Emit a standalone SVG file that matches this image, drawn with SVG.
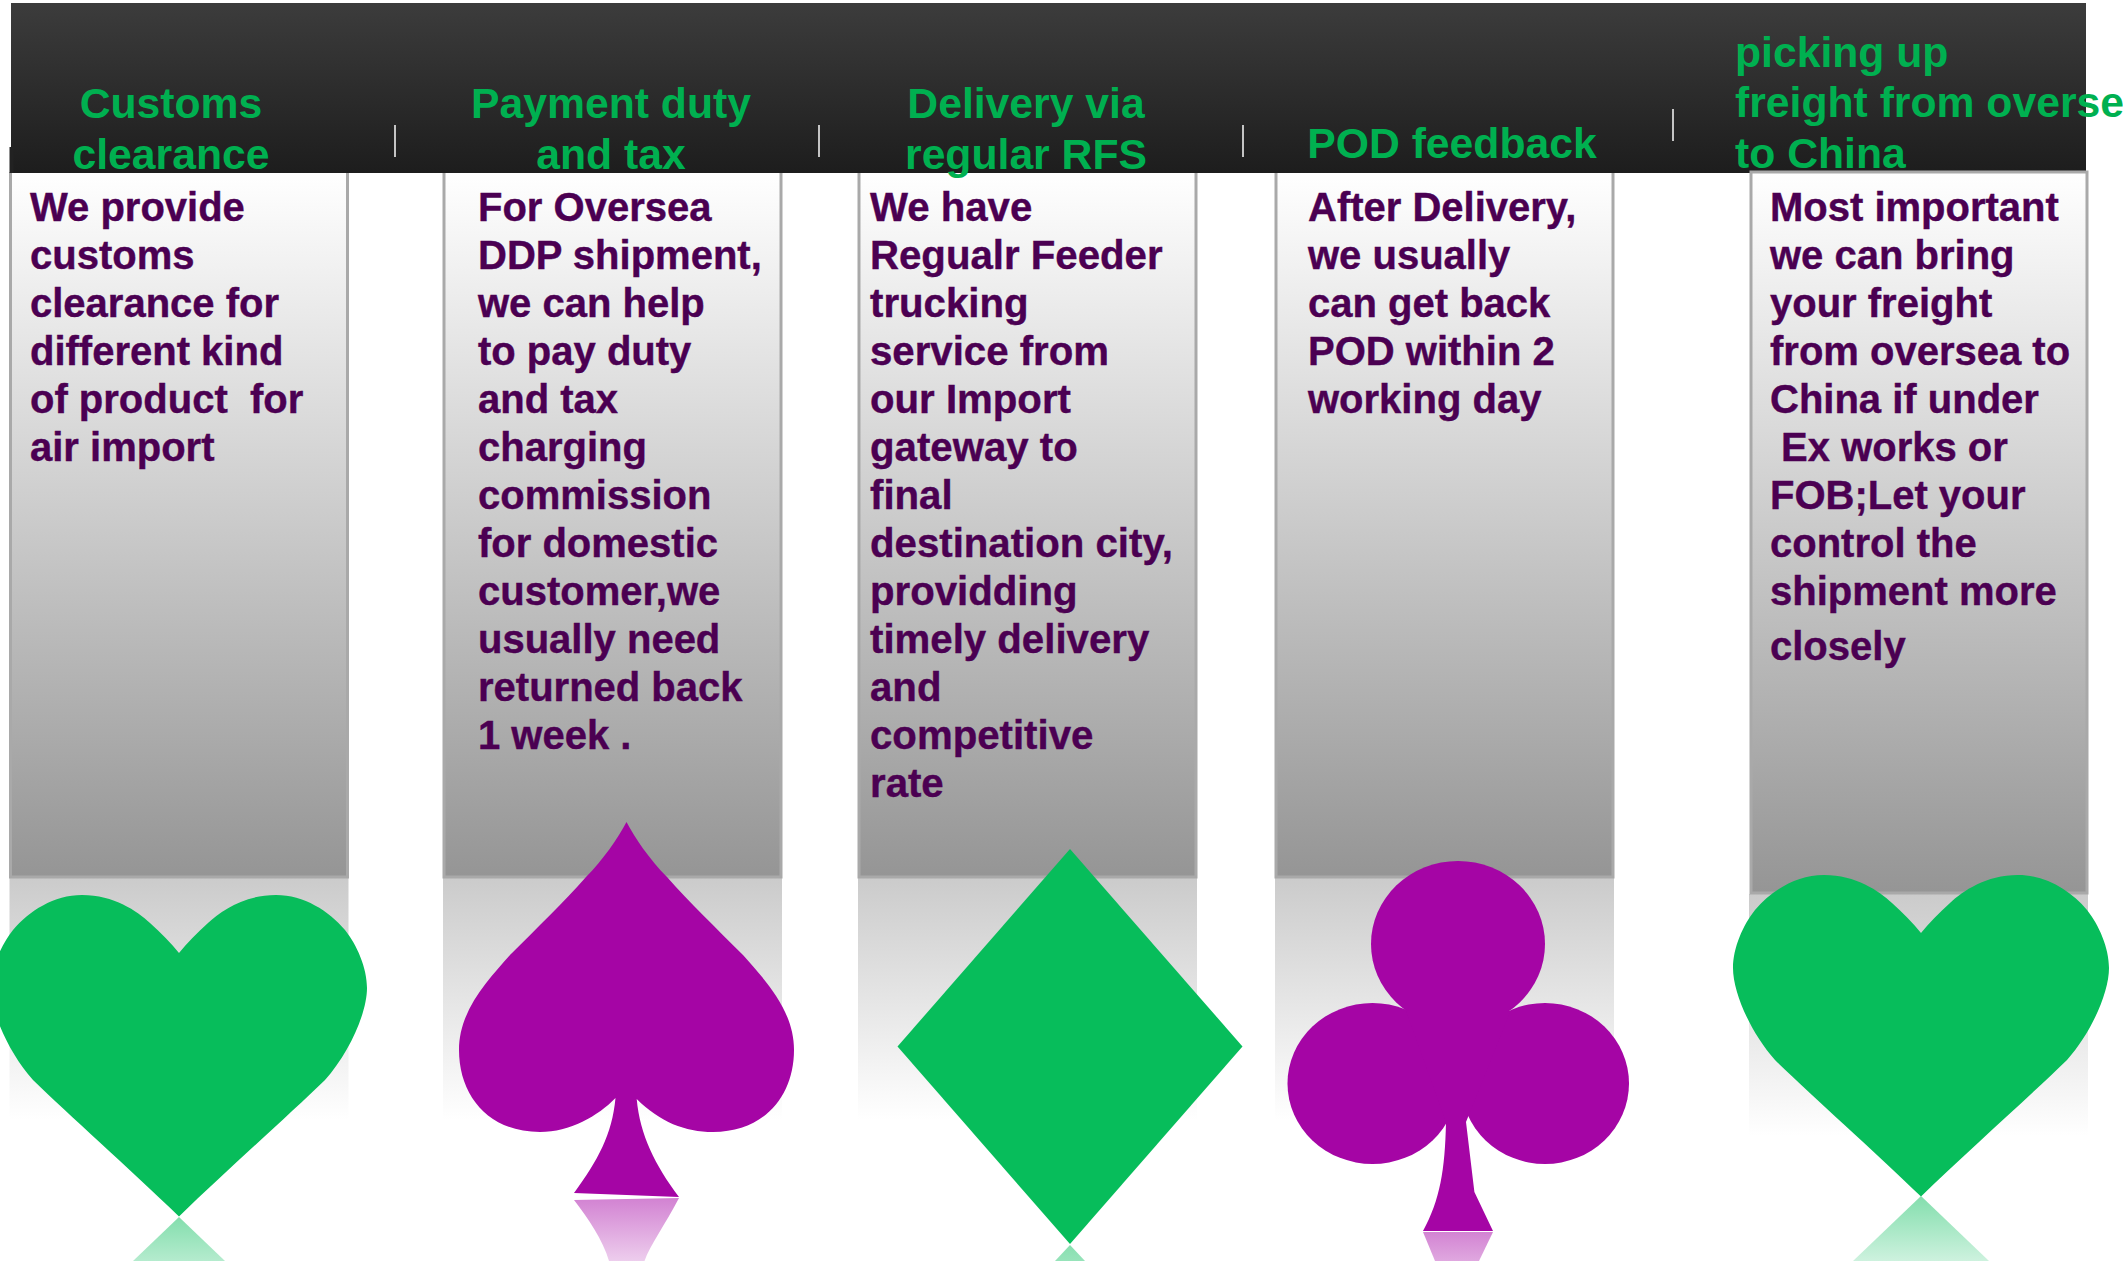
<svg xmlns="http://www.w3.org/2000/svg" width="2123" height="1261" viewBox="0 0 2123 1261">
<style>
.h{font:bold 42.700px "Liberation Sans",Arial,sans-serif;fill:#00b050}
.m{text-anchor:middle}
.b{font:bold 40px "Liberation Sans",Arial,sans-serif;fill:#4b0052;stroke:#4b0052;stroke-width:.4px}
.w{font-size:40.200px}
.p{fill:url(#pg)}
.e{fill:none;stroke:#a9a9a9;stroke-width:3}
.r{fill:url(#rg)}
.s{stroke:#c4c4c4;stroke-width:2}
.g{fill:#07bd5b}
.v{fill:#a505a5}
</style>
<defs>
<linearGradient id="bar" x1="0" y1="0" x2="0" y2="1"><stop offset="0" stop-color="#3c3c3c"/><stop offset="1" stop-color="#1d1d1d"/></linearGradient>
<linearGradient id="pg" x1="0" y1="0" x2="0" y2="1"><stop offset="0" stop-color="#fff"/><stop offset="1" stop-color="#959595"/></linearGradient>
<linearGradient id="rg" x1="0" y1="0" x2="0" y2="1"><stop offset="0" stop-color="#cbcbcb"/><stop offset="1" stop-color="#fff"/></linearGradient>
<linearGradient id="gr1" gradientUnits="userSpaceOnUse" x1="0" y1="1217" x2="0" y2="1261"><stop offset="0" stop-color="#07bd5b" stop-opacity=".5"/><stop offset="1" stop-color="#07bd5b" stop-opacity=".3"/></linearGradient>
<linearGradient id="gr5" gradientUnits="userSpaceOnUse" x1="0" y1="1196" x2="0" y2="1261"><stop offset="0" stop-color="#07bd5b" stop-opacity=".5"/><stop offset="1" stop-color="#07bd5b" stop-opacity=".2"/></linearGradient>
<linearGradient id="gr3" gradientUnits="userSpaceOnUse" x1="0" y1="1245" x2="0" y2="1261"><stop offset="0" stop-color="#07bd5b" stop-opacity=".48"/><stop offset="1" stop-color="#07bd5b" stop-opacity=".42"/></linearGradient>
<linearGradient id="vr2" gradientUnits="userSpaceOnUse" x1="0" y1="1198" x2="0" y2="1261"><stop offset="0" stop-color="#a505a5" stop-opacity=".5"/><stop offset="1" stop-color="#a505a5" stop-opacity=".2"/></linearGradient>
<linearGradient id="vr4" gradientUnits="userSpaceOnUse" x1="0" y1="1231" x2="0" y2="1261"><stop offset="0" stop-color="#a505a5" stop-opacity=".5"/><stop offset="1" stop-color="#a505a5" stop-opacity=".35"/></linearGradient>
<path id="heart" d="M0 0C8 -10 18 -20 29 -30C42 -42 65 -58 97 -58C125 -58 150 -42 166 -23C178 -8 188 15 188 35C188 60 170 100 146 127C110 162 50 215 0 263.500C-50 215 -110 162 -146 127C-170 100 -188 60 -188 35C-188 15 -178 -8 -166 -23C-150 -42 -125 -58 -97 -58C-65 -58 -42 -42 -29 -30C-18 -20 -8 -10 0 0Z"/>
</defs>

<g id="node-panels">
<rect class="r" x="9.500" y="878" width="339" height="242"/>
<rect class="p" x="10.500" y="172" width="337" height="705"/>
<path class="e" d="M10.500 172V877H347.500V172"/>
<rect class="r" x="443" y="878" width="339" height="242"/>
<rect class="p" x="444" y="172" width="337" height="705"/>
<path class="e" d="M444 172V877H781V172"/>
<rect class="r" x="858" y="878" width="339" height="242"/>
<rect class="p" x="859" y="172" width="337" height="705"/>
<path class="e" d="M859 172V877H1196V172"/>
<rect class="r" x="1275" y="878" width="339" height="242"/>
<rect class="p" x="1276" y="172" width="337" height="705"/>
<path class="e" d="M1276 172V877H1613V172"/>
</g>

<g id="header">
<rect x="11" y="3" width="2075" height="170" fill="url(#bar)"/>
<rect x="9.500" y="147" width="4" height="26" fill="#222"/>
</g>

<g id="connectors">
<line class="s" x1="395" y1="125" x2="395" y2="157"/>
<line class="s" x1="819" y1="125" x2="819" y2="157"/>
<line class="s" x1="1243" y1="125" x2="1243" y2="157"/>
<line class="s" x1="1673" y1="109" x2="1673" y2="141"/>
</g>

<g id="node-1">
<text class="h m" x="171" y="118">Customs</text>
<text class="h m" x="171" y="169">clearance</text>
<text class="b" x="30" y="221">We provide</text>
<text class="b" x="30" y="269">customs</text>
<text class="b" x="30" y="317">clearance for</text>
<text class="b" x="30" y="365">different kind</text>
<text class="b" x="30" y="413" xml:space="preserve">of product  for</text>
<text class="b" x="30" y="461">air import</text>
<use href="#heart" class="g" x="179" y="953"/>
<polygon points="179,1217 225,1261 133,1261" fill="url(#gr1)"/>
</g>

<g id="node-2">
<text class="h m" x="611" y="118">Payment duty</text>
<text class="h m" x="611" y="169">and tax</text>
<text class="b" x="478" y="221">For Oversea</text>
<text class="b" x="478" y="269">DDP shipment,</text>
<text class="b" x="478" y="317">we can help</text>
<text class="b" x="478" y="365">to pay duty</text>
<text class="b" x="478" y="413">and tax</text>
<text class="b" x="478" y="461">charging</text>
<text class="b" x="478" y="509">commission</text>
<text class="b" x="478" y="557">for domestic</text>
<text class="b" x="478" y="605">customer,we</text>
<text class="b" x="478" y="653">usually need</text>
<text class="b" x="478" y="701">returned back</text>
<text class="b" x="478" y="749">1 week .</text>
<path class="v" d="M626.500 822C635 838 650 860 667 877C690 903 715 927 743 955C765 980 794 1010 794 1050C794 1095 765 1132 713 1132C685 1132 660 1122 636.700 1099C640 1135 655 1165 679 1197L574 1193C598 1160 612 1135 615.500 1098C598 1116 570 1132 540 1132C488 1132 459 1095 459 1050C459 1010 488 980 510 955C538 927 563 903 586 877C603 860 618 838 626.500 822Z"/>
<path d="M574 1200L679 1198C665 1225 650 1245 644.500 1261L609 1261C603 1240 588 1218 574 1200Z" fill="url(#vr2)"/>
</g>

<g id="node-3">
<text class="h m" x="1026" y="118">Delivery via</text>
<text class="h m" x="1026" y="169">regular RFS</text>
<text class="b w" x="870" y="221">We have</text>
<text class="b w" x="870" y="269">Regualr Feeder</text>
<text class="b w" x="870" y="317">trucking</text>
<text class="b w" x="870" y="365">service from</text>
<text class="b w" x="870" y="413">our Import</text>
<text class="b w" x="870" y="461">gateway to</text>
<text class="b w" x="870" y="509">final</text>
<text class="b w" x="870" y="557">destination city,</text>
<text class="b w" x="870" y="605">providding</text>
<text class="b w" x="870" y="653">timely delivery</text>
<text class="b w" x="870" y="701">and</text>
<text class="b w" x="870" y="749">competitive</text>
<text class="b w" x="870" y="797">rate</text>
<polygon class="g" points="1070,849 1242.500,1046.500 1070,1244 897.500,1046.500"/>
<polygon points="1070,1245 1085,1261 1055,1261" fill="url(#gr3)"/>
</g>

<g id="node-4">
<text class="h m" x="1452" y="158">POD feedback</text>
<text class="b" x="1308" y="221">After Delivery,</text>
<text class="b" x="1308" y="269">we usually</text>
<text class="b" x="1308" y="317">can get back</text>
<text class="b" x="1308" y="365">POD within 2</text>
<text class="b" x="1308" y="413">working day</text>
<g class="v">
<ellipse cx="1458" cy="944" rx="87" ry="83"/>
<ellipse cx="1372.500" cy="1083.500" rx="85" ry="80.500"/>
<ellipse cx="1545" cy="1083.500" rx="84" ry="80.500"/>
<path d="M1406 1011L1510.600 1011L1466 1122L1474.400 1192L1493 1231L1423 1231C1440 1200 1445 1170 1446 1122Z"/>
</g>
<polygon points="1423,1232 1493,1232 1479,1261 1435,1261" fill="url(#vr4)"/>
</g>

<g id="node-5">
<rect class="r" x="1749" y="894" width="339" height="242"/>
<rect class="p" x="1751" y="172" width="336" height="721"/>
<rect class="e" x="1751" y="172" width="336" height="721"/>
<text class="h" x="1735" y="67">picking up</text>
<text class="h" x="1735" y="117">freight from overse</text>
<text class="h" x="1735" y="168">to China</text>
<text class="b" x="1770" y="220.500">Most important</text>
<text class="b" x="1770" y="268.500">we can bring</text>
<text class="b" x="1770" y="316.500">your freight</text>
<text class="b" x="1770" y="364.500">from oversea to</text>
<text class="b" x="1770" y="412.500">China if under</text>
<text class="b" x="1770" y="460.500" xml:space="preserve"> Ex works or</text>
<text class="b" x="1770" y="508.500">FOB;Let your</text>
<text class="b" x="1770" y="556.500">control the</text>
<text class="b" x="1770" y="604.500">shipment more</text>
<text class="b" x="1770" y="660">closely</text>
<use href="#heart" class="g" x="1921" y="933"/>
<polygon points="1921,1196 1989,1261 1853,1261" fill="url(#gr5)"/>
</g>
</svg>
